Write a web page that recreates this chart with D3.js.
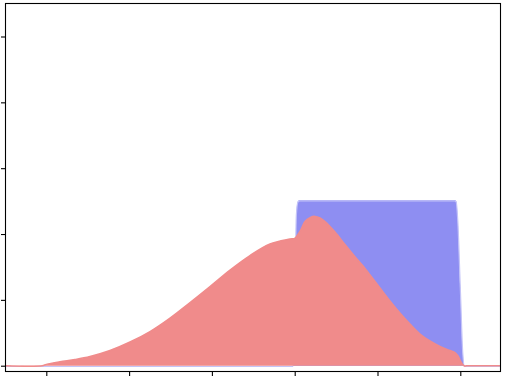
<!DOCTYPE html>
<html><head><meta charset="utf-8">
<script src="https://cdn.jsdelivr.net/npm/d3@7"></script>
<style>html,body{margin:0;padding:0;background:#fff;}svg{display:block;}</style>
</head><body>
<svg id="c" width="505" height="378"></svg>
<script>
const xTicks = [0, 1, 2, 3, 4, 5];
const yTicks = [0, 1, 2, 3, 4, 5];
const tickLabels = ["", "", "", "", "", ""];

const redX = [-0.5, -0.05, 0.0, 0.165, 0.347, 0.528, 0.769, 1.011, 1.252, 1.494, 1.736, 1.977, 2.219, 2.46, 2.702, 2.943, 3.004, 3.064, 3.124, 3.185, 3.245, 3.306, 3.366, 3.487, 3.607, 3.728, 3.849, 3.91, 4.03, 4.151, 4.271, 4.392, 4.513, 4.633, 4.754, 4.875, 4.936, 4.973, 5.009, 5.045, 5.1, 5.5];
const redY = [0, 0, 0.02, 0.059, 0.094, 0.140, 0.231, 0.360, 0.519, 0.724, 0.960, 1.203, 1.453, 1.673, 1.848, 1.924, 1.939, 2.04, 2.19, 2.25, 2.268, 2.245, 2.19, 2.03, 1.84, 1.655, 1.478, 1.377, 1.18, 0.983, 0.80, 0.633, 0.481, 0.375, 0.292, 0.231, 0.20, 0.147, 0.056, 0, 0, 0];

const blueX = [-0.5, 2.98, 3.0, 3.02, 3.04, 3.06, 4.93, 4.95, 4.97, 5.0, 5.03, 5.05, 5.5];
const blueY = [0, 0, 0.8, 2.3, 2.5, 2.516, 2.516, 2.5, 2.2, 1.2, 0.2, 0, 0];

const svg = d3.select("#c");
const x = d3.scaleLinear().domain([0, 5]).range([46.3, 460.3]);
const y = d3.scaleLinear().domain([0, 5]).range([365.7, 36.5]);
const L = 5.5, R = 500.5, T = 3.5, B = 371.5;

svg.append("clipPath").attr("id", "clip").append("rect")
  .attr("x", L).attr("y", T).attr("width", R - L).attr("height", B - T);

const g = svg.append("g").attr("clip-path", "url(#clip)");
const blue = blueX.map((v, i) => [v, blueY[i]]);
const red = redX.map((v, i) => [v, redY[i]]);

const areaB = d3.area().x(d => x(d[0])).y0(y(0)).y1(d => y(d[1])).curve(d3.curveMonotoneX);
const lineB = d3.line().x(d => x(d[0])).y(d => y(d[1])).curve(d3.curveMonotoneX);
const areaR = d3.area().x(d => x(d[0])).y0(y(0)).y1(d => y(d[1])).curve(d3.curveCatmullRom.alpha(0.5));
const lineR = d3.line().x(d => x(d[0])).y(d => y(d[1])).curve(d3.curveCatmullRom.alpha(0.5));

g.append("path").datum(blue).attr("d", areaB).attr("fill", "#8e8ef2");
g.append("path").datum(blue).attr("d", lineB).attr("fill", "none").attr("stroke", "#c4c4f8").attr("stroke-width", 1.2).attr("transform", "translate(0,0.8)");
g.append("path").datum(red).attr("d", areaR).attr("fill", "#f08b8b");
g.append("path").datum(red).attr("d", lineR).attr("fill", "none").attr("stroke", "#f08b8b").attr("stroke-width", 1.5);

const xa = d3.axisBottom(x).tickValues(xTicks).tickFormat((d, i) => tickLabels[i]).tickSize(4.5);
const ya = d3.axisLeft(y).tickValues(yTicks).tickFormat((d, i) => tickLabels[i]).tickSize(4.5);
const gx = svg.append("g").attr("transform", `translate(0,${B})`).call(xa);
const gy = svg.append("g").attr("transform", `translate(${L},0)`).call(ya);
[gx, gy].forEach(a => { a.select(".domain").remove(); a.selectAll("line").attr("stroke", "#000").attr("stroke-width", 1.1); });

svg.append("rect").attr("x", L).attr("y", T).attr("width", R - L).attr("height", B - T)
  .attr("fill", "none").attr("stroke", "#000").attr("stroke-width", 1.1);
</script>
</body></html>
